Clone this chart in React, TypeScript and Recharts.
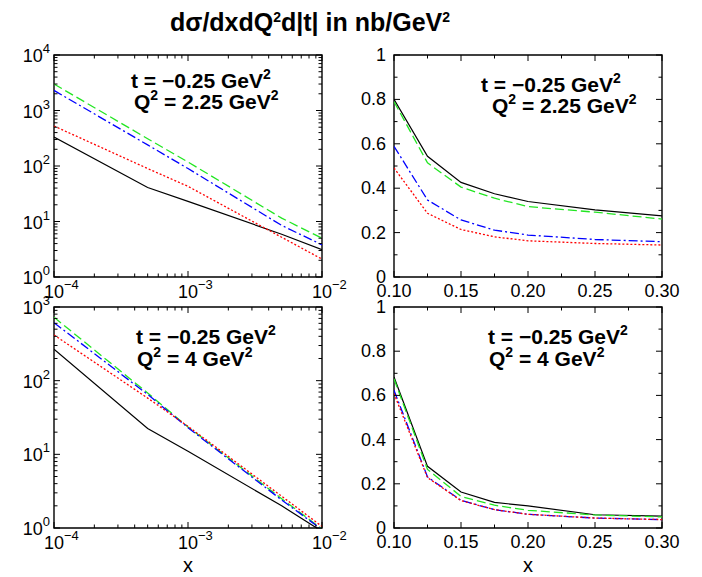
import { LineChart, Line, XAxis, YAxis, ReferenceArea } from 'recharts'

const FONT = '"Liberation Sans", Arial, Helvetica, sans-serif'

// x grids
const xSmall = [1e-4, 5e-4, 1e-3, 5e-3, 1e-2]
const xLarge = [0.1, 0.125, 0.15, 0.175, 0.2, 0.25, 0.3]

// t = -0.25, Q2 = 2.25, small x (log)
const tlSolid = [333, 41, 23, 5.9, 3.1]
const tlDashed = [3000, 310, 118, 11.5, 5.0]
const tlDashDot = [2300, 240, 90, 8.5, 3.8]
const tlDotted = [525, 90, 43, 5.2, 2.1]

// t = -0.25, Q2 = 2.25, large x
const trSolid = [0.8, 0.544, 0.426, 0.375, 0.34, 0.302, 0.275]
const trDashed = [0.79, 0.514, 0.405, 0.355, 0.317, 0.292, 0.261]
const trDashDot = [0.589, 0.347, 0.257, 0.211, 0.189, 0.169, 0.159]
const trDotted = [0.491, 0.287, 0.214, 0.181, 0.163, 0.151, 0.144]

// t = -0.25, Q2 = 4, small x (log)
const blSolid = [267, 22.4, 11, 2.0, 0.9]
const blDashed = [725, 68, 23.5, 2.5, 0.97]
const blDashDot = [612, 65, 23, 2.4, 0.95]
const blDotted = [417, 58, 24, 2.7, 1.05]

// t = -0.25, Q2 = 4, large x
const brSolid = [0.683, 0.279, 0.163, 0.116, 0.1, 0.06, 0.054]
const brDashed = [0.675, 0.265, 0.143, 0.103, 0.08, 0.059, 0.05]
const brDashDot = [0.623, 0.231, 0.125, 0.083, 0.062, 0.045, 0.038]
const brDotted = [0.608, 0.228, 0.124, 0.083, 0.062, 0.045, 0.038]

const linXTicks = [0.1, 0.125, 0.15, 0.175, 0.2, 0.225, 0.25, 0.275, 0.3]
const linYTicks = [0, 0.1, 0.2, 0.3, 0.4, 0.5, 0.6, 0.7, 0.8, 0.9, 1]

const SERIES = [
  { key: 'solid', color: '#000000', dash: undefined, width: 1.2 },
  { key: 'dashed', color: '#22e622', dash: '9 4', width: 1.3 },
  { key: 'dashDot', color: '#0000ff', dash: '9 3 2 3', width: 1.3 },
  { key: 'dotted', color: '#ff0000', dash: '2 2', width: 1.3 },
]

function rows(xs: number[], solid: number[], dashed: number[], dashDot: number[], dotted: number[]) {
  return xs.map((x, i) => ({ x, solid: solid[i], dashed: dashed[i], dashDot: dashDot[i], dotted: dotted[i] }))
}

function logTicks(lo: number, hi: number) {
  const out: number[] = []
  for (let e = lo; e < hi; e++) for (let m = 1; m < 10; m++) out.push(m * Math.pow(10, e))
  out.push(Math.pow(10, hi))
  return out
}

function pow10Exp(v: number) {
  const e = Math.round(Math.log10(v))
  return Math.abs(v / Math.pow(10, e) - 1) < 1e-6 ? e : null
}

function isMultiple(v: number, step: number) {
  return Math.abs(v / step - Math.round(v / step)) < 1e-6
}

function XTick(props: any) {
  const { x, y, payload, h, log } = props
  const v = payload.value
  const exp = log ? pow10Exp(v) : null
  const major = log ? exp !== null : isMultiple(v, 0.05)
  const len = major ? 6 : 3.5
  return (
    <g>
      <line x1={x} y1={y} x2={x} y2={y - len} stroke="#000" strokeWidth={1} />
      <line x1={x} y1={y - h} x2={x} y2={y - h + len} stroke="#000" strokeWidth={1} />
      {major && log && (
        <text x={x - 10} y={y + 21} fontSize={18} fontFamily={FONT} fill="#000">
          10<tspan dy={-9} fontSize={13}>{exp! < 0 ? '\u2212' + Math.abs(exp!) : exp}</tspan>
        </text>
      )}
      {major && !log && (
        <text x={x} y={y + 20} fontSize={18} fontFamily={FONT} fill="#000" textAnchor="middle">
          {v.toFixed(2)}
        </text>
      )}
    </g>
  )
}

function YTick(props: any) {
  const { x, y, payload, w, log } = props
  const v = payload.value
  const exp = log ? pow10Exp(v) : null
  const major = log ? exp !== null : isMultiple(v, 0.2)
  const len = major ? 6 : 3.5
  const label = v === 0 ? '0' : v === 1 ? '1' : v.toFixed(1)
  return (
    <g>
      <line x1={x} y1={y} x2={x + len} y2={y} stroke="#000" strokeWidth={1} />
      <line x1={x + w} y1={y} x2={x + w - len} y2={y} stroke="#000" strokeWidth={1} />
      {major && log && (
        <text x={x - 4} y={y + 7} fontSize={18} fontFamily={FONT} fill="#000" textAnchor="end">
          10<tspan dy={-9} fontSize={13}>{exp}</tspan>
        </text>
      )}
      {major && !log && (
        <text x={x - 8} y={y + 6} fontSize={18} fontFamily={FONT} fill="#000" textAnchor="end">
          {label}
        </text>
      )}
    </g>
  )
}

function Panel(props: {
  left: number
  top: number
  w: number
  h: number
  data: any[]
  log: boolean
  xDomain: [number, number]
  yDomain: [number, number]
  xTicks: number[]
  yTicks: number[]
}) {
  const { left, top, w, h, data, log, xDomain, yDomain, xTicks, yTicks } = props
  const ML = 60
  const MT = 15
  const MR = 36
  const MB = 40
  return (
    <div style={{ position: 'absolute', left: left - ML, top: top - MT }}>
      <LineChart width={ML + w + MR} height={MT + h + MB} data={data} margin={{ top: MT, right: MR, bottom: 0, left: 0 }}>
        <XAxis
          dataKey="x"
          type="number"
          scale={log ? 'log' : 'linear'}
          domain={xDomain}
          ticks={xTicks}
          interval={0}
          height={MB}
          tickSize={0}
          tickMargin={0}
          axisLine={false}
          allowDataOverflow
          tick={(p: any) => <XTick {...p} h={h} log={log} />}
        />
        <YAxis
          type="number"
          scale={log ? 'log' : 'linear'}
          domain={yDomain}
          ticks={yTicks}
          interval={0}
          width={ML}
          tickSize={0}
          tickMargin={0}
          axisLine={false}
          allowDataOverflow
          tick={(p: any) => <YTick {...p} w={w} log={log} />}
        />
        <ReferenceArea
          x1={xDomain[0]}
          x2={xDomain[1]}
          y1={yDomain[0]}
          y2={yDomain[1]}
          fill="none"
          fillOpacity={0}
          stroke="#000"
          strokeWidth={1.4}
          ifOverflow="visible"
        />
        {SERIES.map((s) => (
          <Line
            key={s.key}
            dataKey={s.key}
            type="linear"
            stroke={s.color}
            strokeWidth={s.width}
            strokeDasharray={s.dash}
            dot={false}
            activeDot={false}
            isAnimationActive={false}
          />
        ))}
      </LineChart>
    </div>
  )
}

function Sup({ children }: { children: string }) {
  return (
    <tspan dy={-9} fontSize={14}>
      {children}
    </tspan>
  )
}

function Note({ x1, y1, x2, y2, q2 }: { x1: number; y1: number; x2: number; y2: number; q2: string }) {
  return (
    <g fontFamily={FONT} fontWeight="bold" fontSize={21} fill="#000">
      <text x={x1} y={y1}>
        t = {'\u2212'}0.25 GeV<Sup>2</Sup>
      </text>
      <text x={x2} y={y2}>
        Q<Sup>2</Sup>
        <tspan dy={9}> = {q2} GeV</tspan>
        <Sup>2</Sup>
      </text>
    </g>
  )
}

export default function App() {
  const logX: [number, number] = [1e-4, 1e-2]
  const xLogTicks = logTicks(-4, -2)
  return (
    <div style={{ position: 'absolute', left: 0, top: 0, width: 702, height: 577, background: '#fff' }}>
      <Panel left={54} top={55} w={268} h={222} data={rows(xSmall, tlSolid, tlDashed, tlDashDot, tlDotted)} log
        xDomain={logX} yDomain={[1, 1e4]} xTicks={xLogTicks} yTicks={logTicks(0, 4)} />
      <Panel left={394} top={55} w={268} h={222} data={rows(xLarge, trSolid, trDashed, trDashDot, trDotted)} log={false}
        xDomain={[0.1, 0.3]} yDomain={[0, 1]} xTicks={linXTicks} yTicks={linYTicks} />
      <Panel left={54} top={307} w={268} h={221} data={rows(xSmall, blSolid, blDashed, blDashDot, blDotted)} log
        xDomain={logX} yDomain={[1, 1e3]} xTicks={xLogTicks} yTicks={logTicks(0, 3)} />
      <Panel left={394} top={307} w={268} h={221} data={rows(xLarge, brSolid, brDashed, brDashDot, brDotted)} log={false}
        xDomain={[0.1, 0.3]} yDomain={[0, 1]} xTicks={linXTicks} yTicks={linYTicks} />
      <svg width={702} height={577} style={{ position: 'absolute', left: 0, top: 0, pointerEvents: 'none' }}>
        <text x={170} y={31} fontFamily={FONT} fontWeight="bold" fontSize={25} fill="#000">
          d{'\u03c3'}/dxdQ<Sup>2</Sup>
          <tspan dy={9}>d|t| in nb/GeV</tspan>
          <Sup>2</Sup>
        </text>
        <Note x1={131} y1={88} x2={134} y2={109} q2="2.25" />
        <Note x1={481} y1={92} x2={492} y2={113} q2="2.25" />
        <Note x1={136} y1={344} x2={137} y2={366} q2="4" />
        <Note x1={488} y1={344} x2={489} y2={366} q2="4" />
        <text x={188} y={572} fontFamily={FONT} fontSize={20} textAnchor="middle" fill="#000">x</text>
        <text x={528} y={572} fontFamily={FONT} fontSize={20} textAnchor="middle" fill="#000">x</text>
      </svg>
    </div>
  )
}
